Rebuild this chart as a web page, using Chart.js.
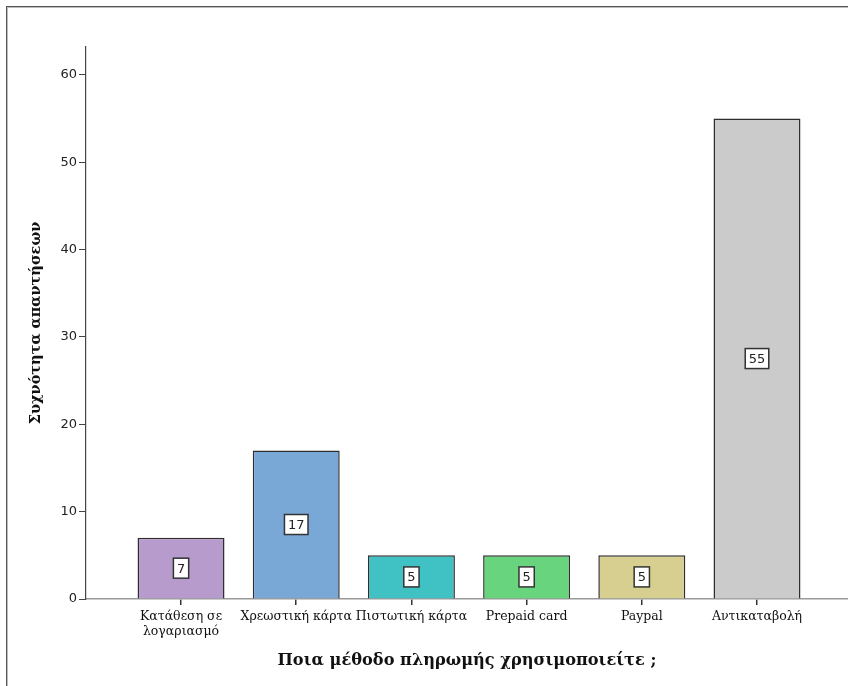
<!DOCTYPE html>
<html>
<head>
<meta charset="utf-8">
<script src="https://cdn.jsdelivr.net/npm/chart.js@4/dist/chart.umd.min.js"></script>
<style>
  html, body { margin: 0; padding: 0; background: #ffffff; }
  #wrap { position: relative; width: 848px; height: 686px; overflow: hidden; }
  #frame {
    position: absolute; left: 6px; top: 6px; width: 900px; height: 800px;
    border-top: 1px solid #555; border-left: 1px solid #555;
    box-shadow: inset 1px 1px 0 #bdbdbd;
  }
  #chart { position: absolute; left: 0; top: 0; }
</style>
</head>
<body>
<div id="wrap">
  <div id="frame"></div>
  <canvas id="chart" width="848" height="686"></canvas>
</div>
<script>
// Payment methods and number of answers for each
const categories = [
  ["Κατάθεση σε", "λογαριασμό"],
  "Χρεωστική κάρτα",
  "Πιστωτική κάρτα",
  "Prepaid card",
  "Paypal",
  "Αντικαταβολή"
];
const counts = [7, 17, 5, 5, 5, 55];
const barColors = ["#b89bcd", "#79a7d6", "#40c2c4", "#69d47e", "#d6cf8f", "#cbcbcb"];
const yTicks = [0, 10, 20, 30, 40, 50, 60];
const yTitle = "Συχνότητα απαντήσεων";
const xTitle = "Ποια μέθοδο πληρωμής χρησιμοποιείτε ;";

const serif = "'DejaVu Serif', 'Liberation Serif', serif";
const sans = "'DejaVu Sans', Verdana, sans-serif";

// Boxed value label in the middle of each bar
const boxedValues = {
  id: "boxedValues",
  afterDatasetsDraw(chart) {
    const ctx = chart.ctx;
    const meta = chart.getDatasetMeta(0);
    ctx.save();
    ctx.font = "13px " + sans;
    ctx.textAlign = "center";
    ctx.textBaseline = "middle";
    meta.data.forEach((bar, i) => {
      const p = bar.getProps(["x", "y", "base"], true);
      const cy = (p.y + p.base) / 2;
      const txt = String(counts[i]);
      const w = ctx.measureText(txt).width + 7;
      const h = 20;
      ctx.fillStyle = "#ffffff";
      ctx.fillRect(p.x - w / 2, cy - h / 2, w, h);
      ctx.strokeStyle = "#333333";
      ctx.lineWidth = 1.5;
      ctx.strokeRect(p.x - w / 2, cy - h / 2, w, h);
      ctx.fillStyle = "#222222";
      ctx.fillText(txt, p.x, cy + 1);
    });
    ctx.restore();
  }
};

new Chart(document.getElementById("chart"), {
  type: "bar",
  data: {
    datasets: [{
      data: counts.map((v, i) => ({ x: i, y: v })),
      backgroundColor: barColors,
      borderColor: "#2e2e2e",
      borderWidth: 1.5,
      categoryPercentage: 1,
      barPercentage: 0.755
    }]
  },
  options: {
    responsive: false,
    animation: false,
    devicePixelRatio: 1,
    layout: { padding: { top: 47, left: 0, right: 0, bottom: 0 } },
    plugins: { legend: { display: false }, tooltip: { enabled: false } },
    scales: {
      x: {
        type: "linear",
        min: -0.825,
        max: 5.79,
        offset: false,
        afterBuildTicks: s => { s.ticks = categories.map((_, i) => ({ value: i })); },
        afterFit: s => { s.height = 87; },
        grid: {
          offset: false,
          drawOnChartArea: false,
          drawTicks: true,
          tickLength: 6,
          color: "#333333",
          lineWidth: 1.5
        },
        border: { display: true, color: "#9a9a9a", width: 1.5 },
        ticks: {
          autoSkip: false,
          maxRotation: 0,
          padding: 5,
          color: "#111111",
          font: { family: serif, size: 12.5, lineHeight: 1.15 },
          callback: v => categories[v]
        },
        title: {
          display: true,
          text: xTitle,
          color: "#111111",
          font: { family: serif, size: 16.2, weight: "bold" },
          padding: { top: 0, bottom: 15 }
        }
      },
      y: {
        min: 0,
        max: 63.2,
        afterBuildTicks: s => { s.ticks = yTicks.map(v => ({ value: v })); },
        afterFit: s => { s.width = 86; },
        grid: {
          drawOnChartArea: false,
          drawTicks: true,
          tickLength: 7,
          color: "#444444",
          lineWidth: 1
        },
        border: { display: true, color: "#444444", width: 1.2 },
        ticks: {
          padding: 2,
          color: "#222222",
          font: { family: sans, size: 13 }
        },
        title: {
          display: true,
          text: yTitle,
          color: "#111111",
          font: { family: serif, size: 14.5, weight: "bold" },
          padding: { top: 28, bottom: 0 }
        }
      }
    }
  },
  plugins: [boxedValues]
});
</script>
</body>
</html>
